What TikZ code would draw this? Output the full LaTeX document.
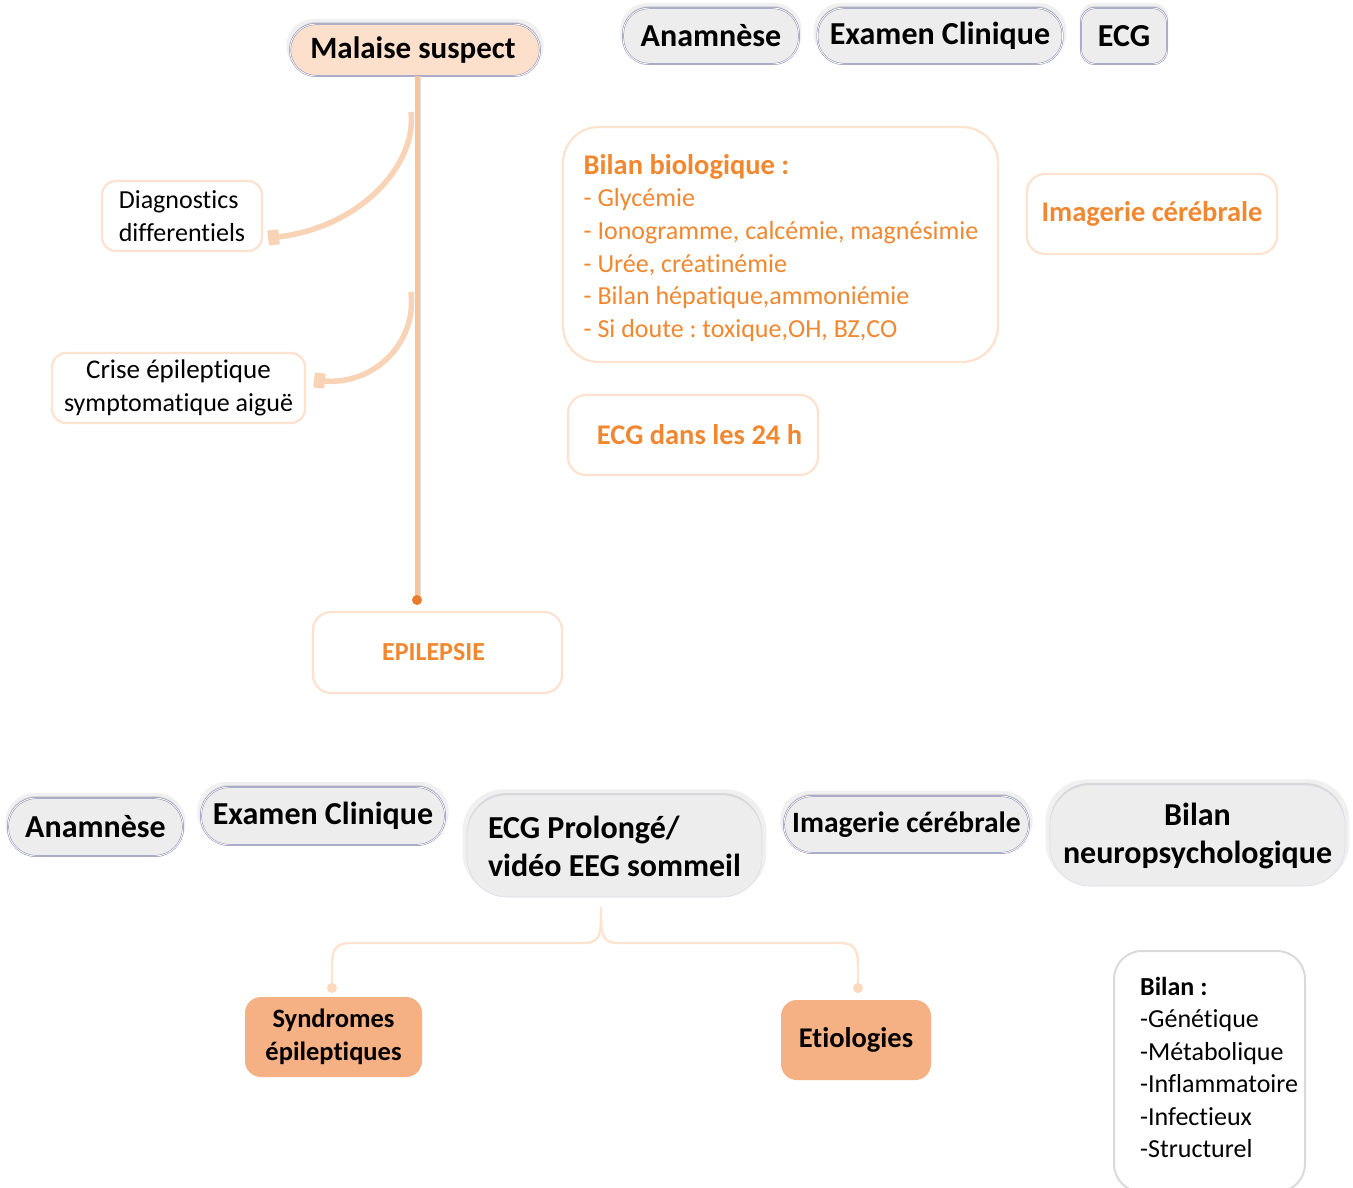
\documentclass[tikz,border=0pt]{standalone}
\usepackage{fontspec}
\setmainfont{Carlito}[Ligatures=NoCommon]
\usetikzlibrary{arrows.meta,shadows,calc}

\definecolor{peachfill}{HTML}{FCE0CC}
\definecolor{peachline}{HTML}{FCE2CF}
\definecolor{stemline}{HTML}{F8C39B}
\definecolor{stemdot}{HTML}{EA7D2C}
\definecolor{curvecol}{HTML}{F9D3B6}
\definecolor{bracecol}{HTML}{FDE3D0}
\definecolor{bracedot}{HTML}{FCD8BD}
\definecolor{orangetxt}{HTML}{F1872F}
\definecolor{pillfill}{HTML}{EDEDED}
\definecolor{pillline}{HTML}{7E7EAE}
\definecolor{softline}{HTML}{DCDCE6}
\definecolor{tagfill}{HTML}{F5B183}
\definecolor{greyline}{HTML}{DADADA}

\tikzset{
  pillshadow/.style={
    general shadow={shadow scale=1.03, shadow yshift=4pt, opacity=0.06, fill=black},
    drop shadow={shadow xshift=0pt, shadow yshift=2pt, opacity=0.10, fill=black}},
  greypill/.style={pillshadow, draw=pillline, double=white, double distance=0.9pt,
    line width=0.45pt, fill=pillfill, inner sep=0pt, text=black,
    font=\bfseries\fontsize{32}{38}\selectfont},
  softpill/.style={pillshadow, draw=softline, line width=0.6pt, fill=pillfill,
    inner sep=0pt, text=black, font=\bfseries\fontsize{32}{38}\selectfont},
  framebox/.style={draw=peachline, line width=2.2pt, fill=white, inner sep=0pt},
  orangebold/.style={text=orangetxt, font=\bfseries\fontsize{28.5}{34}\selectfont},
  plainblack/.style={text=black, font=\fontsize{26}{32.5}\selectfont},
  tagbox/.style={fill=tagfill, draw=none, rounded corners=16pt, inner sep=0pt,
    text=black, font=\bfseries\fontsize{26.5}{33}\selectfont, align=center},
  sidecurve/.style={draw=curvecol, line width=5.5pt,
    -{Rectangle[length=11pt, width=15pt]}},
  brace/.style={draw=bracecol, line width=2.4pt},
}

\begin{document}
\frenchspacing
\begin{tikzpicture}[x=1pt, y=-1pt]
\useasboundingbox (0,0) rectangle (1353,1187);
\fill[white] (0,0) rectangle (1353,1187);

% ---------- upper part: suspected malaise ----------
\node[greypill, fill=peachfill, rounded corners=26pt, minimum width=250pt, minimum height=52pt,
  font=\bfseries\fontsize{31}{36}\selectfont]
  (malaise) at (415,50) {\hspace{-4pt}Malaise suspect};

\node[greypill, rounded corners=26pt, minimum width=176pt, minimum height=56pt]
  (anamTop) at (711,36) {Anamnèse};
\node[greypill, rounded corners=26pt, minimum width=245pt, minimum height=56pt]
  (examTop) at (940,36) {Examen Clinique};
\node[greypill, rounded corners=14pt, minimum width=86pt, minimum height=56pt]
  (ecgTop) at (1124,36) {ECG};

% side branches
\node[framebox, rounded corners=14pt, minimum width=160pt, minimum height=70pt,
  plainblack, align=left] (diff) at (182,216) {Diagnostics\\differentiels};
\node[framebox, rounded corners=14pt, minimum width=253pt, minimum height=70pt,
  plainblack, align=center] (crise) at (178.5,388)
  {\fontsize{27}{32.5}\selectfont Crise épileptique\\symptomatique aiguë};

\coordinate (c1) at (411,112);
\coordinate (c2) at (411,292);
\coordinate (e1) at ($(diff.east)+(5,22)$);
\coordinate (e2) at ($(crise.east)+(8,-8)$);
\draw[sidecurve] (c1) .. controls (417,165) and (360,228) .. (e1);
\draw[sidecurve] (c2) .. controls (417,345) and (372,386) .. (e2);

% main stem
\coordinate (stemEnd) at (417,600);
\draw[black!12, line width=3pt] ($(malaise.south)+(4,2)$) -- ($(stemEnd)+(2,-4)$);
\draw[stemline, line width=5pt] (malaise.south -| stemEnd) -- (stemEnd);
\fill[stemdot] (stemEnd) circle (5pt);

% tests
\node[framebox, rounded corners=36pt, minimum width=435pt, minimum height=235pt]
  (bio) at (780.5,244.5) {};
\node[text=orangetxt, font=\fontsize{26}{32.7}\selectfont, align=left, inner sep=0pt]
  (bioTxt) at (781,248)
  {{\fontsize{28.5}{32.7}\selectfont\bfseries Bilan biologique :}\\
   - Glycémie\\
   - Ionogramme, calcémie, magnésimie\\
   - Urée, créatinémie\\
   - Bilan hépatique,ammoniémie\\
   - Si doute : toxique,OH, BZ,CO};

\node[framebox, rounded corners=18pt, minimum width=250pt, minimum height=80pt,
  orangebold] (imgTop) at (1152,214) {Imagerie cérébrale};
\node[framebox, rounded corners=18pt, minimum width=250pt, minimum height=80pt,
  orangebold] (ecg24) at (693,435) {\hspace{13pt}ECG dans les 24 h};

\node[framebox, rounded corners=18pt, minimum width=249pt, minimum height=81pt,
  orangebold, font=\bfseries\fontsize{26}{30}\selectfont] (epi) at (437.5,652.5)
  {\hspace{-8pt}EPILEPSIE};

% ---------- lower part: epilepsy work-up ----------
\node[greypill, rounded corners=28pt, minimum width=175pt, minimum height=58pt]
  (anamBot) at (95.5,827) {Anamnèse};
\node[greypill, rounded corners=28pt, minimum width=244pt, minimum height=58pt]
  (examBot) at (323,816) {Examen Clinique};
\node[softpill, rounded corners=40pt, minimum width=295pt, minimum height=102pt,
  align=left] (eeg) at (614.5,846) {ECG Prolongé/\\vidéo EEG sommeil};
\node[greypill, rounded corners=28pt, minimum width=245pt, minimum height=57pt,
  font=\bfseries\fontsize{29.5}{36}\selectfont]
  (imgBot) at (906.5,824.5) {Imagerie cérébrale};
\node[softpill, rounded corners=40pt, minimum width=295pt, minimum height=101pt,
  align=center] (neuro) at (1197.5,835.5) {Bilan\\neuropsychologique};

\node[tagbox, minimum width=177pt, minimum height=80pt] (synd) at (333.5,1037)
  {Syndromes\\épileptiques};
\node[tagbox, minimum width=150pt, minimum height=80pt,
  font=\bfseries\fontsize{28.5}{33}\selectfont] (etio) at (856,1040)
  {Etiologies};

% branching brace below the EEG box
\coordinate (bTop) at (601,907);
\coordinate (bMid) at (601,920);
\coordinate (dotL) at (332,988);
\coordinate (dotR) at (858,988);
\draw[brace] (bTop) -- (bMid)
  .. controls (601,938) and (596,943) .. (584,943) -- (350,943)
  .. controls (336,943) and (332,950) .. (332,964) -- (dotL);
\draw[brace] (bMid)
  .. controls (601,938) and (606,943) .. (618,943) -- (840,943)
  .. controls (854,943) and (858,950) .. (858,964) -- (dotR);
\fill[bracedot] (dotL) circle (5pt);
\fill[bracedot] (dotR) circle (5pt);

% etiological work-up
\node[draw=greyline, line width=2pt, fill=white, rounded corners=28pt, inner sep=0pt,
  minimum width=191pt, minimum height=241pt] (bilan) at (1209.5,1071.5) {};
\node[plainblack, align=left, anchor=north west, inner sep=0pt] (bilanTxt) at (1140,977)
  {\textbf{Bilan :}\\-Génétique\\-Métabolique\\-Inflammatoire\\-Infectieux\\-Structurel};
\end{tikzpicture}
\end{document}
